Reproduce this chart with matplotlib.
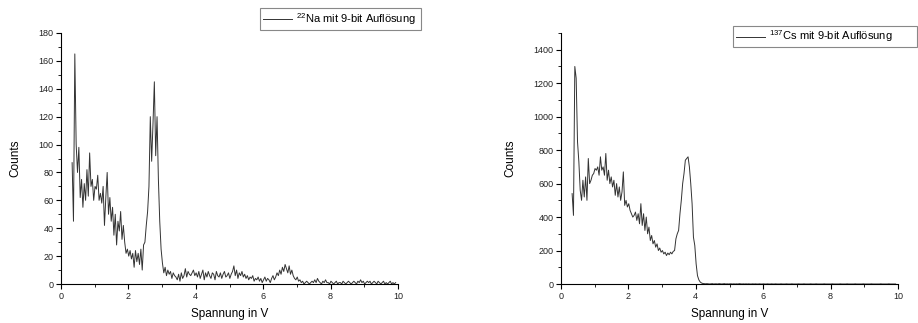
import numpy as np
import matplotlib
matplotlib.use('Agg')
import matplotlib.pyplot as plt
from matplotlib.ticker import MultipleLocator

plt.rcParams['font.family'] = ['Liberation Sans', 'DejaVu Sans']
plt.rcParams['mathtext.fontset'] = 'custom'
plt.rcParams['mathtext.rm'] = 'Liberation Sans'
plt.rcParams['mathtext.default'] = 'regular'

# channel voltages: start at 0.33 V, step 0.04 V
x_start = 0.33  # [V]
x_step = 0.04  # [V]

# 22Na spectrum, counts per channel (rows of 10, row k starts at 0.33 + 0.4k V)
na_counts = [
    87, 45, 165, 100, 80, 98, 62, 75, 55, 72,
    60, 82, 63, 94, 70, 75, 60, 70, 68, 78,
    60, 65, 58, 70, 42, 62, 80, 50, 62, 45,
    55, 35, 50, 28, 45, 38, 52, 32, 42, 30,
    22, 25, 20, 24, 18, 22, 12, 24, 16, 22,
    14, 25, 10, 28, 30, 42, 52, 70, 120, 88,
    115, 145, 92, 120, 75, 45, 25, 15, 8, 12,
    6, 10, 7, 9, 4, 8, 6, 5, 3, 7,
    2, 8, 4, 6, 11, 5, 9, 7, 6, 8,
    10, 6, 8, 5, 9, 4, 7, 10, 3, 8,
    5, 9, 6, 4, 8, 7, 3, 9, 6, 5,
    8, 4, 7, 9, 5, 6, 8, 4, 7, 9,
    13, 6, 10, 4, 8, 6, 9, 5, 7, 4,
    6, 3, 5, 4, 6, 2, 4, 3, 5, 2,
    4, 1, 3, 5, 2, 4, 3, 1, 4, 6,
    3, 5, 8, 6, 10, 7, 12, 9, 14, 11,
    8, 13, 7, 10, 6, 4, 3, 5, 2, 3,
    1, 2, 0, 1, 2, 1, 0, 1, 2, 1,
    3, 1, 4, 2, 1, 0, 2, 1, 3, 1,
    1, 0, 2, 1, 0, 1, 2, 0, 1, 1,
    0, 2, 1, 0, 1, 2, 1, 0, 1, 2,
    1, 0, 2, 1, 3, 1, 2, 0, 1, 2,
    1, 2, 0, 1, 2, 1, 0, 2, 1, 0,
    1, 2, 0, 1, 0, 1, 2, 0, 1, 0,
    1,
]

# 137Cs spectrum, counts per channel
cs_counts = [
    540, 410, 1300, 1230, 850, 730, 560, 500, 620, 520,
    640, 500, 750, 600, 620, 650, 660, 690, 680, 700,
    650, 760, 680, 700, 650, 780, 620, 680, 600, 640,
    580, 620, 530, 600, 520, 580, 500, 550, 670, 470,
    500, 460, 480, 440, 420, 400, 410, 430, 380, 420,
    360, 480, 350, 420, 320, 400, 300, 340, 260, 290,
    240, 260, 220, 240, 200, 215, 190, 200, 180, 190,
    170, 185, 175, 190, 180, 195, 200, 270, 300, 320,
    420, 500, 600, 660, 740, 750, 760, 700, 600, 480,
    280, 230, 120, 50, 25, 12, 6, 3, 2, 1,
    2, 1, 0, 1, 2, 0, 1, 1, 0, 2,
    1, 0, 1, 2, 0, 1, 0, 1, 1, 0,
    1, 0, 1, 0, 2, 1, 0, 1, 0, 1,
    0, 1, 0, 0, 1, 0, 1, 0, 0, 1,
    0, 0, 1, 0, 0, 1, 0, 0, 1, 0,
    0, 1, 0, 0, 0, 1, 0, 0, 0, 1,
    0, 0, 0, 1, 0, 0, 0, 0, 1, 0,
    0, 0, 1, 0, 0, 0, 0, 1, 0, 0,
    0, 1, 0, 0, 0, 0, 0, 1, 0, 0,
    0, 0, 0, 1, 0, 0, 0, 0, 0, 1,
    0, 0, 0, 0, 1, 0, 0, 0, 0, 0,
    1, 0, 0, 0, 0, 0, 1, 0, 0, 0,
    0, 0, 1, 0, 0, 0, 0, 0, 0, 1,
    0, 0, 0, 0, 0, 1, 0, 0, 0, 0,
    0,
]

na_label = r'$^{22}$Na mit 9-bit Auflösung'
cs_label = r'$^{137}$Cs mit 9-bit Auflösung'

W, H = 918, 323
fig = plt.figure(figsize=(W / 100, H / 100), dpi=100)


def style_axis(ax, ymax, ymajor, yminor):
    ax.spines['top'].set_visible(False)
    ax.spines['right'].set_visible(False)
    for s in ['left', 'bottom']:
        ax.spines[s].set_linewidth(0.8)
    ax.set_xlim(0, 10)
    ax.set_ylim(0, ymax)
    ax.xaxis.set_major_locator(MultipleLocator(2))
    ax.xaxis.set_minor_locator(MultipleLocator(1))
    ax.yaxis.set_major_locator(MultipleLocator(ymajor))
    ax.yaxis.set_minor_locator(MultipleLocator(yminor))
    ax.tick_params(which='major', direction='out', length=3.5, width=0.8,
                   labelsize=6.5, pad=2, labelcolor='#222222')
    ax.tick_params(which='minor', direction='out', length=2, width=0.6)
    ax.set_xlabel('Spannung in V', fontsize=8.5, labelpad=5)
    ax.set_ylabel('Counts', fontsize=8.5, labelpad=12)


def add_legend(ax, line, label, x0, y0, x1, y1):
    leg = ax.legend([line], [label], loc='center', fontsize=8,
                    bbox_to_anchor=(x0 / W, 1 - y1 / H, (x1 - x0) / W, (y1 - y0) / H),
                    bbox_transform=fig.transFigure, mode='expand', borderaxespad=0,
                    fancybox=False, edgecolor='#888888', framealpha=1,
                    handlelength=2.6, handletextpad=0.4, borderpad=0.25)
    leg.get_frame().set_linewidth(0.8)


# left panel: 22Na
ax1 = fig.add_axes([61 / W, 39 / H, 337 / W, 251 / H])
x_na = x_start + x_step * np.arange(len(na_counts))
l1, = ax1.plot(x_na, na_counts, color='#333333', lw=0.7)
style_axis(ax1, 180, 20, 10)
add_legend(ax1, l1, na_label, 260, 10, 421, 28)

# right panel: 137Cs
ax2 = fig.add_axes([561 / W, 39 / H, 337 / W, 251 / H])
x_cs = x_start + x_step * np.arange(len(cs_counts))
l2, = ax2.plot(x_cs, cs_counts, color='#333333', lw=0.7)
style_axis(ax2, 1500, 200, 100)
add_legend(ax2, l2, cs_label, 733, 27, 917, 46)

fig.savefig('out.png', dpi=100)
